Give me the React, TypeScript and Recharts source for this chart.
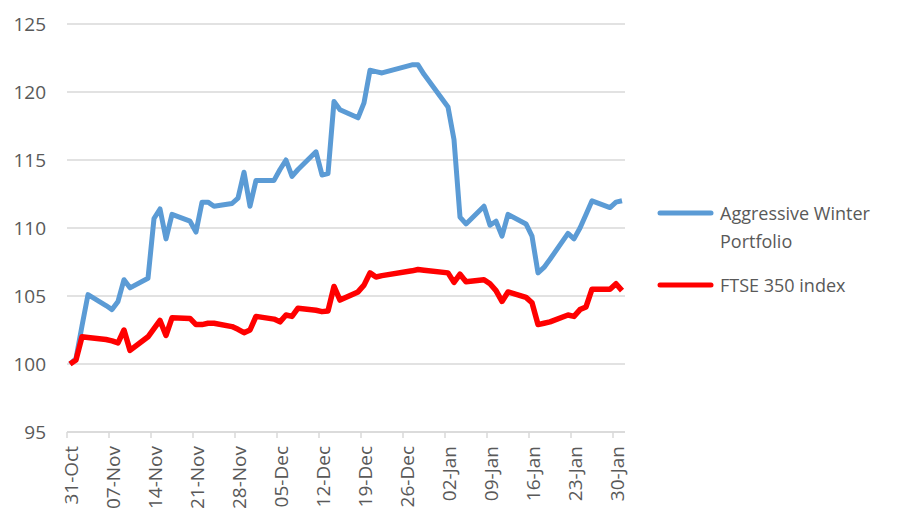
import { LineChart, Line, XAxis, YAxis, CartesianGrid, Legend } from "recharts";

const FONT = "'Open Sans', sans-serif";
const TEXT = "#595959";
const GRID = "#d9d9d9";

// days since 31-Oct (trading days only)
const tradingDays = [
  0, 1, 2, 3, 6, 7, 8, 9, 10, 13, 14, 15, 16, 17, 20, 21, 22, 23, 24, 27, 28, 29, 30, 31,
  34, 35, 36, 37, 38, 41, 42, 43, 44, 45, 48, 49, 50, 51, 52, 57, 58, 59, 63, 64, 65, 66,
  69, 70, 71, 72, 73, 76, 77, 78, 79, 80, 83, 84, 85, 86, 87, 90, 91, 92,
];

const portfolio = [
  100.0, 100.4, 102.8, 105.1, 104.3, 104.0, 104.6, 106.2, 105.6, 106.3, 110.7, 111.4, 109.2, 111.0,
  110.5, 109.7, 111.9, 111.9, 111.6, 111.8, 112.2, 114.1, 111.6, 113.5,
  113.5, 114.3, 115.0, 113.8, 114.3, 115.6, 113.9, 114.0, 119.3, 118.7, 118.1, 119.2, 121.6, 121.5,
  121.4, 122.0, 122.0, 121.3, 118.9, 116.5, 110.8, 110.3,
  111.6, 110.2, 110.5, 109.4, 111.0, 110.3, 109.4, 106.7, 107.1, 107.7, 109.6, 109.2, 110.0, 111.0,
  112.0, 111.5, 111.9, 112.0,
];

const ftse = [
  100.0, 100.3, 102.0, 101.95, 101.8, 101.7, 101.55, 102.5, 101.0, 102.0, 102.6, 103.2, 102.1, 103.4,
  103.35, 102.9, 102.9, 103.0, 103.0, 102.75, 102.55, 102.3, 102.5, 103.5,
  103.3, 103.1, 103.6, 103.5, 104.1, 103.95, 103.85, 103.9, 105.7, 104.7, 105.3, 105.8, 106.7, 106.4,
  106.5, 106.85, 106.95, 106.9, 106.7, 106.0, 106.6, 106.05,
  106.2, 105.9, 105.4, 104.6, 105.3, 104.9, 104.5, 102.9, 103.0, 103.1, 103.6, 103.5, 104.0, 104.2,
  105.5, 105.5, 105.9, 105.4,
];

const xTicks = [0, 7, 14, 21, 28, 35, 42, 49, 56, 63, 70, 77, 84, 91];
const xTickLabels = [
  "31-Oct", "07-Nov", "14-Nov", "21-Nov", "28-Nov", "05-Dec", "12-Dec",
  "19-Dec", "26-Dec", "02-Jan", "09-Jan", "16-Jan", "23-Jan", "30-Jan",
];
const yTicks = [95, 100, 105, 110, 115, 120, 125];

const data = tradingDays.map((day, i) => ({
  day,
  portfolio: portfolio[i],
  ftse: ftse[i],
}));

function DateTick({ x, y, payload }: any) {
  const label = xTickLabels[xTicks.indexOf(payload.value)];
  return (
    <g>
      <line x1={x - 3} x2={x - 3} y1={y} y2={y + 6} stroke={GRID} strokeWidth={1.5} />
      <text
        transform={`translate(${x + 1},${y + 14}) rotate(-90)`}
        textAnchor="end"
        dominantBaseline="central"
        fill={TEXT}
        fontSize={19}
        fontFamily={FONT}
      >
        {label}
      </text>
    </g>
  );
}

function LegendBox({ payload }: any) {
  return (
    <div style={{ width: 250, fontFamily: FONT, fontSize: 18, color: TEXT, lineHeight: "28px" }}>
      {(payload || []).map((entry: any) => (
        <div key={entry.value} style={{ display: "flex", alignItems: "flex-start", marginBottom: 16 }}>
          <svg width={63} height={28} style={{ flex: "none" }}>
            <line x1={3} x2={54} y1={14} y2={14} stroke={entry.color} strokeWidth={5} strokeLinecap="round" />
          </svg>
          <span style={{ width: 180 }}>{entry.value}</span>
        </div>
      ))}
    </div>
  );
}

export default function App() {
  return (
    <div style={{ position: "absolute", left: 0, top: 0, background: "#fff" }}>
      <LineChart width={904} height={528} data={data} margin={{ top: 24, right: 279, bottom: 6, left: 7 }}>
        <CartesianGrid vertical={false} stroke={GRID} strokeWidth={1.5} />
        <XAxis
          dataKey="day"
          type="number"
          domain={[-0.5, 92.5]}
          ticks={xTicks}
          interval={0}
          height={90}
          tickSize={0}
          tickMargin={0}
          tickLine={false}
          axisLine={{ stroke: GRID, strokeWidth: 1.5 }}
          tick={<DateTick />}
        />
        <YAxis
          domain={[95, 125]}
          ticks={yTicks}
          width={60}
          axisLine={false}
          tickLine={false}
          tickSize={0}
          tickMargin={21}
          tick={{ fill: TEXT, fontSize: 19, fontFamily: FONT }}
        />
        <Legend
          layout="vertical"
          align="center"
          verticalAlign="middle"
          content={<LegendBox />}
          wrapperStyle={{ left: 657, top: 199, width: 250 }}
        />
        <Line
          name="Aggressive Winter Portfolio"
          dataKey="portfolio"
          stroke="#5b9bd5"
          strokeWidth={5}
          strokeLinejoin="round"
          dot={false}
          isAnimationActive={false}
        />
        <Line
          name="FTSE 350 index"
          dataKey="ftse"
          stroke="#ff0000"
          strokeWidth={5.5}
          strokeLinejoin="round"
          dot={false}
          isAnimationActive={false}
        />
      </LineChart>
    </div>
  );
}
